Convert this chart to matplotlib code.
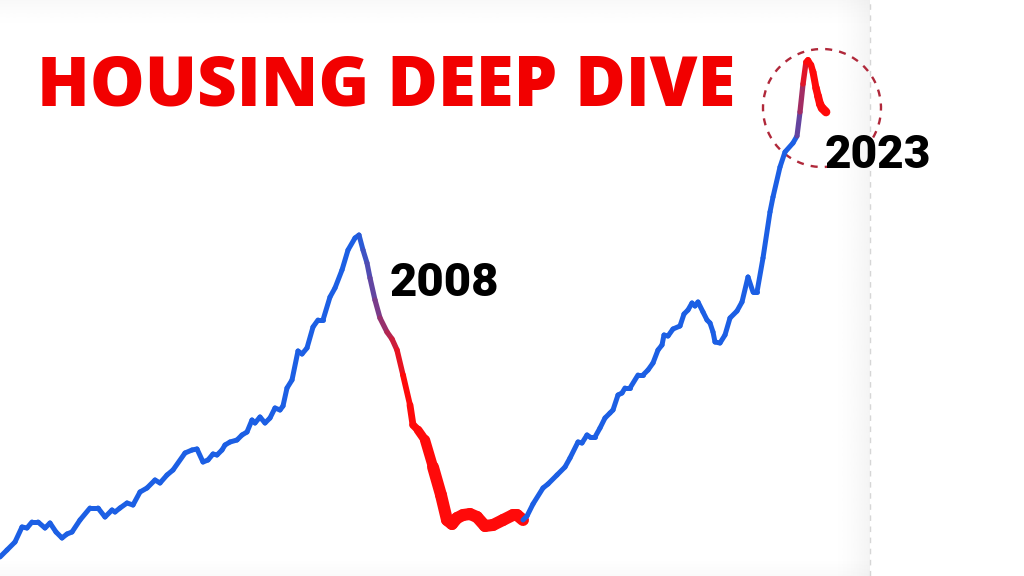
import numpy as np
import matplotlib
matplotlib.use("Agg")
import matplotlib.pyplot as plt
from matplotlib.collections import LineCollection
from matplotlib.patches import Arc
from matplotlib.colors import to_rgb

# price index (time step, level)
t = [0, 7, 15, 22, 27, 32, 38, 45, 50, 56,
     62, 67, 72, 80, 90, 98, 105, 112, 115, 120,
     127, 133, 140, 147, 155, 160, 167, 173, 185, 192,
     197, 203, 208, 213, 217, 222, 225, 230, 237, 242,
     247, 252, 255, 260, 265, 270, 275, 280, 283, 287,
     292, 298, 302, 307, 313, 318, 323, 330, 335, 342,
     348, 355, 359, 363, 367, 370, 375, 380, 387, 392,
     397, 403, 410, 413, 418, 425, 433, 441, 447, 452,
     457, 463, 470, 477, 485, 493, 503, 513, 517, 523,
     527, 533, 543, 548, 557, 565, 570, 578, 582, 587,
     590, 595, 600, 605, 610, 613, 618, 622, 625, 630,
     638, 643, 648, 653, 658, 662, 664, 668, 673, 680,
     684, 688, 692, 695, 698, 703, 707, 710, 713, 715,
     720, 725, 730, 737, 742, 748, 753, 757, 763, 770,
     773, 780, 785, 793, 797, 800, 803, 806, 808, 811,
     813, 816, 818, 820, 822, 826]
level = [19, 26, 34, 49, 48, 54, 54, 48, 53, 44,
         38, 42, 44, 56, 68, 68, 59, 66, 64, 68,
         73, 71, 84, 88, 96, 93, 101, 106, 123, 126,
         127, 114, 116, 122, 121, 126, 131, 134, 136, 141,
         144, 156, 153, 159, 153, 158, 168, 166, 170, 188,
         196, 225, 222, 228, 249, 256, 256, 279, 288, 306,
         326, 338, 341, 326, 313, 298, 276, 258, 244, 237,
         226, 201, 171, 151, 146, 136, 109, 81, 56, 52,
         58, 61, 62, 59, 50, 51, 56, 61, 61, 56,
         60, 72, 88, 92, 101, 109, 118, 134, 133, 141,
         139, 139, 148, 158, 163, 166, 181, 183, 188, 188,
         201, 201, 206, 213, 226, 231, 241, 240, 247, 250,
         262, 266, 273, 270, 274, 264, 256, 253, 244, 234,
         233, 241, 258, 265, 274, 299, 284, 284, 318, 364,
         379, 409, 424, 433, 440, 464, 492, 514, 516, 511,
         504, 488, 480, 472, 468, 464]

# periods drawn in red (crash 2008 and drop 2023), with blend zones
crash_start, crash_red, crash_end = 358, 405, 523
peak_start, peak_red = 795, 806

BLUE = np.array(to_rgb("#1c5fe4"))
RED = np.array(to_rgb("#ff0a0a"))


def seg_style(x):
    if x < crash_start:
        return BLUE, 5
    if x < crash_red:
        f = (x - crash_start) / (crash_red - crash_start)
        return BLUE * (1 - f) + RED * f, 5 + 0.5 * f
    if x < crash_end:
        w = min(12, 5.5 + (x - crash_red) * 0.2)
        return RED, w
    if x < peak_start:
        return BLUE, 5
    if x < peak_red:
        f = (x - peak_start) / (peak_red - peak_start)
        return BLUE * (1 - f) + RED * f, 5 + 0.5 * f
    return RED, 5.5 + (x - peak_red) * 0.18


fig = plt.figure(figsize=(10.24, 5.76), dpi=100)
fig.patch.set_facecolor("white")
ax = fig.add_axes([0, 0, 1, 1])
ax.set_xlim(0, 1024)
ax.set_ylim(0, 576)
ax.axis("off")

# soft shading of the chart panel
edge = 870
shade = np.zeros((1, 64, 4))
shade[..., :3] = 0.80
shade[0, :, 3] = np.linspace(0, 0.35, 64) ** 1.5
ax.imshow(shade, extent=[edge - 35, edge, 0, 576], aspect="auto", zorder=0, interpolation="bilinear")
top = np.zeros((32, 1, 4))
top[..., :3] = 0.80
top[:, 0, 3] = np.linspace(0.25, 0, 32) ** 1.5
ax.imshow(top, extent=[0, edge, 550, 576], aspect="auto", zorder=0, interpolation="bilinear")
bot = np.zeros((16, 1, 4))
bot[..., :3] = 0.85
bot[:, 0, 3] = np.linspace(0, 0.12, 16)
ax.imshow(bot, extent=[0, edge, 0, 16], aspect="auto", zorder=0, interpolation="bilinear")
ax.axvline(edge, color="#d6d6d6", lw=1, ls=(0, (4, 4)), zorder=1)

pts = np.column_stack([t, level])
segs = np.stack([pts[:-1], pts[1:]], axis=1)
styles = [seg_style((a + b) / 2) for a, b in zip(t[:-1], t[1:])]
colors = [s[0] for s in styles]
widths = [s[1] * 0.72 for s in styles]
lc = LineCollection(segs, colors=colors, linewidths=widths, capstyle="round", joinstyle="round", zorder=3)
ax.add_collection(lc)

# circle around the 2023 peak
i_peak = int(np.argmax(level))
cx, cy = t[i_peak] + 14, level[i_peak] - 48
ax.add_patch(Arc((cx, cy), 118, 118, theta1=-30, theta2=275, color="#b0283a", lw=1.7,
                 ls=(0, (3, 3)), zorder=2))

fam = ["Open Sans", "DejaVu Sans"]
title = ax.text(37, 471, "HOUSING DEEP DIVE", color="#f20000", fontsize=50, fontweight=800,
                family=fam, ha="left", va="baseline", zorder=4)
# stretch the title to the width it has in the original
r = fig.canvas.get_renderer()
w = title.get_window_extent(r).width
title.set_fontsize(50 * 698 / w)

num_fam = ["Roboto", "DejaVu Sans"]
ax.text(390, 280, "2008", color="black", fontsize=34, fontweight="black", family=num_fam,
        ha="left", va="baseline", zorder=4)
ax.text(825, 408, "2023", color="black", fontsize=33, fontweight="black", family=num_fam,
        ha="left", va="baseline", zorder=4)

fig.savefig("out.png", dpi=100, facecolor="white")
